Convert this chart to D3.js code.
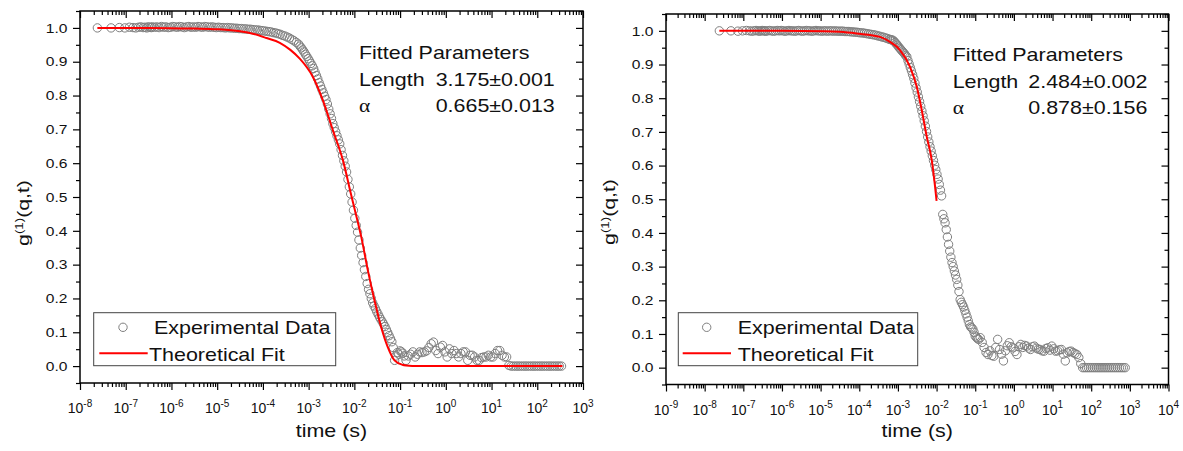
<!DOCTYPE html>
<html>
<head>
<meta charset="utf-8">
<script src="https://cdn.jsdelivr.net/npm/d3@7"></script>
<style>
  body { margin: 0; background: #fff; }
  svg text { font-family: "Liberation Sans", Arial, sans-serif; fill: #111; }
</style>
</head>
<body>
<svg id="chart" width="1183" height="451"></svg>
<script>
// correlator lag times, log10(seconds), shared by both runs
const lagExp = [
  -7.62,-7.32,-7.14,-7.02,-6.92,-6.84,-6.78,-6.72,-6.67,-6.62,-6.58,-6.54,-6.51,-6.47,-6.44,-6.42,
  -6.37,-6.32,-6.27,-6.22,-6.17,-6.12,-6.07,-6.02,-5.97,-5.92,
  -5.87,-5.82,-5.77,-5.72,-5.67,-5.62,-5.57,-5.52,-5.47,-5.42,
  -5.37,-5.32,-5.27,-5.22,-5.17,-5.12,-5.07,-5.02,-4.97,-4.92,
  -4.87,-4.82,-4.77,-4.72,-4.67,-4.62,-4.57,-4.52,-4.47,-4.42,
  -4.37,-4.32,-4.27,-4.22,-4.17,-4.12,-4.07,-4.02,-3.97,-3.92,
  -3.87,-3.82,-3.77,-3.72,-3.67,-3.62,-3.57,-3.52,-3.47,-3.42,
  -3.37,-3.32,-3.27,-3.22,
  -3.19,-3.16,-3.13,-3.10,-3.07,-3.04,-3.01,-2.98,-2.95,-2.92,
  -2.89,-2.86,-2.83,-2.80,-2.77,-2.74,-2.71,-2.68,-2.65,-2.62,
  -2.59,-2.56,-2.53,-2.50,-2.47,-2.44,-2.41,-2.38,-2.35,-2.32,
  -2.29,-2.26,-2.23,-2.20,-2.17,-2.14,-2.11,-2.08,-2.05,-2.02,
  -1.99,-1.96,-1.93,-1.90,-1.87,-1.84,-1.81,-1.78,-1.75,-1.72,
  -1.69,-1.66,-1.63,-1.60,-1.57,-1.54,-1.51,-1.48,-1.45,-1.42,
  -1.39,-1.36,-1.33,-1.30,-1.27,-1.24,-1.21,-1.18,-1.15,-1.12,
  -1.09,-1.06,-1.03,-1.00,-0.97,-0.94,-0.91,
  -0.87,-0.82,-0.77,-0.72,-0.67,-0.62,-0.57,-0.52,-0.47,-0.42,
  -0.37,-0.32,-0.27,-0.22,-0.17,-0.12,-0.07,-0.02,0.03,0.08,
  0.13,0.18,0.23,0.28,0.33,0.38,0.43,0.48,0.53,0.58,
  0.63,0.68,0.73,0.78,0.83,0.88,0.93,0.98,1.03,1.08,
  1.13,1.18,1.23,1.28,1.33,1.38,1.43,1.48,1.53,1.58,
  1.63,1.68,1.73,1.78,1.83,1.88,1.93,1.98,2.03,2.08,
  2.13,2.18,2.23,2.28,2.33,2.38,2.43,2.48,2.53,2.58,
  2.63,2.68,2.73,2.78,2.83,2.88
];

// g1(q,t) measured, left sample
const leftG = [
  1.000,1.000,1.001,1.000,1.002,1.001,1.000,1.002,1.003,1.001,1.002,1.000,1.003,1.002,1.001,1.003,
  1.002,1.003,1.001,1.004,1.002,1.003,1.001,1.002,1.004,1.003,
  1.002,1.004,1.003,1.001,1.003,1.004,1.002,1.003,1.002,1.004,
  1.003,1.002,1.004,1.003,1.002,1.003,1.002,1.001,1.002,1.001,
  1.001,1.000,1.001,1.000,1.000,0.999,0.999,0.998,0.998,0.997,
  0.997,0.996,0.996,0.995,0.994,0.994,0.993,0.992,0.991,0.990,
  0.989,0.988,0.986,0.985,0.983,0.981,0.978,0.976,0.973,0.970,
  0.966,0.962,0.957,0.952,
  0.946,0.941,0.935,0.929,0.922,0.916,0.909,0.902,0.895,0.888,
  0.880,0.869,0.859,0.849,0.838,0.828,0.818,0.808,0.798,0.788,
  0.775,0.760,0.746,0.732,0.717,0.705,0.693,0.681,0.669,0.657,
  0.640,0.623,0.607,0.591,0.574,0.552,0.530,0.509,0.485,0.461,
  0.437,0.416,0.396,0.373,0.349,0.327,0.306,0.285,0.265,0.244,
  0.227,0.214,0.200,0.187,0.178,0.170,0.161,0.153,0.145,0.138,
  0.131,0.124,0.117,0.108,0.099,0.090,0.081,0.072,0.055,0.017,
  0.030,0.040,0.035,0.045,0.042,0.038,0.030,
  0.017,0.030,0.035,0.042,0.027,0.035,0.042,0.040,0.042,0.045,
  0.055,0.066,0.071,0.046,0.037,0.056,0.061,0.042,0.027,0.051,
  0.037,0.046,0.037,0.027,0.037,0.042,0.042,0.017,0.032,0.032,
  0.027,0.017,0.017,0.025,0.027,0.027,0.032,0.027,0.027,0.037,
  0.046,0.046,0.032,0.027,0.027,0.002,0,0,0,0,
  0,0,0,0,0,0,0,0,0,0,
  0,0,0,0,0,0,0,0,0
];

// g1(q,t) measured, right sample
const rightG = [
  1.000,1.000,0.999,1.000,1.001,1.000,0.999,1.000,1.001,1.000,0.999,1.000,1.001,1.000,1.000,0.999,
  1.000,1.001,1.000,0.999,1.000,1.001,1.000,1.001,1.000,0.999,
  1.000,1.001,1.000,1.000,0.999,1.000,1.001,1.000,0.999,1.000,
  1.001,1.000,1.000,0.999,1.000,1.001,1.000,1.000,0.999,1.000,
  1.000,0.999,1.000,1.000,0.999,1.000,0.999,0.999,0.999,0.999,
  0.998,0.998,0.998,0.997,0.997,0.996,0.996,0.995,0.994,0.994,
  0.993,0.992,0.991,0.990,0.989,0.988,0.987,0.985,0.984,0.982,
  0.981,0.979,0.977,0.975,
  0.974,0.973,0.972,0.969,0.965,0.961,0.957,0.952,0.948,0.944,
  0.940,0.936,0.932,0.927,0.923,0.912,0.902,0.891,0.881,0.870,
  0.859,0.845,0.831,0.818,0.804,0.790,0.776,0.762,0.748,0.733,
  0.717,0.701,0.685,0.670,0.656,0.643,0.629,0.615,0.601,0.588,
  0.574,0.560,0.544,0.527,0.510,0.455,0.442,0.430,0.410,0.388,
  0.366,0.346,0.328,0.312,0.300,0.287,0.275,0.262,0.245,0.226,
  0.202,0.194,0.187,0.180,0.170,0.160,0.150,0.139,0.128,0.121,
  0.118,0.114,0.105,0.094,0.090,0.086,0.084,
  0.089,0.075,0.060,0.045,0.039,0.050,0.036,0.034,0.060,0.084,
  0.054,0.040,0.020,0.050,0.065,0.074,0.062,0.059,0.048,0.039,
  0.062,0.069,0.060,0.066,0.064,0.058,0.054,0.062,0.064,0.058,
  0.055,0.054,0.050,0.049,0.057,0.059,0.052,0.064,0.056,0.049,
  0.050,0.053,0.054,0.040,0.020,0.044,0.048,0.049,0.045,0.042,
  0.039,0.030,0.012,0,0,0,0,0,0,0,
  0,0,0,0,0,0,0,0,0,0,
  0,0,0,0,0,0
];

// theoretical fit curves (log10 t, g1)
const leftFitExp = [-7.62,-6.5,-5.5,-5.0,-4.5,-4.2,-3.92,-3.63,-3.4,-3.2,-2.906,-2.688,-2.469,-2.251,-2.068,-1.996,-1.849,-1.705,-1.559,-1.413,-1.269,-1.122,-0.95,-0.867,-0.6,2.55];
const leftFitG   = [1,1,0.998,0.996,0.990,0.982,0.970,0.956,0.935,0.910,0.855,0.786,0.697,0.609,0.505,0.465,0.382,0.283,0.194,0.115,0.056,0.017,0.004,0.002,0,0];
const rightFitExp = [-7.62,-6.0,-4.93,-4.5,-4.066,-3.463,-3.204,-2.946,-2.687,-2.513,-2.384,-2.255,-2.126,-2.04,-2.0];
const rightFitG   = [1,1,0.999,0.997,0.992,0.982,0.967,0.943,0.893,0.834,0.765,0.686,0.617,0.538,0.495];

const leftXTicks = [-8,-7,-6,-5,-4,-3,-2,-1,0,1,2,3];
const rightXTicks = [-9,-8,-7,-6,-5,-4,-3,-2,-1,0,1,2,3,4];
const yTicks = [0,0.1,0.2,0.3,0.4,0.5,0.6,0.7,0.8,0.9,1.0];
const legendLabels = ["Experimental Data", "Theoretical Fit"];
const paramTitle = "Fitted Parameters";
const leftParams = [["Length", "3.175\u00b10.001"], ["\u03b1", "0.665\u00b10.013"]];
const rightParams = [["Length", "2.484\u00b10.002"], ["\u03b1", "0.878\u00b10.156"]];

const svg = d3.select("#chart");
const SX = 1.16; // figure text is set wide

const label = (g, x, y, txt, size, opts = {}) => g.append("text")
    .attr("transform", `translate(${x},${y}) scale(${opts.sx ?? SX},1)`)
    .attr("text-anchor", opts.anchor || "start")
    .style("font-size", size + "px")
    .style("font-family", opts.serif ? '"Liberation Serif", "DejaVu Serif", serif' : null)
    .text(txt);

const drawPanel = (p) => {
    const x = d3.scaleLog().domain([10 ** p.xTicks[0], 10 ** p.xTicks[p.xTicks.length - 1]]).range([p.left, p.right]);
    const y = d3.scaleLinear().domain([-0.05, 1.05]).range([p.bottom, p.top]);
    const g = svg.append("g");

    const majors = p.xTicks.map(e => 10 ** e);
    const minors = p.xTicks.slice(0, -1).flatMap(e => d3.range(2, 10).map(k => k * 10 ** e));
    const yMinor = [-0.05, ...yTicks.map(v => v + 0.05)];
    const axis = (gen, tr) => g.append("g").attr("transform", tr).call(gen)
        .call(s => s.select(".domain").remove())
        .call(s => s.selectAll("line").attr("stroke", "#000").attr("stroke-width", 1.2));

    axis(d3.axisBottom(x).tickValues(majors).tickSize(7).tickFormat(""), `translate(0,${p.bottom})`);
    axis(d3.axisBottom(x).tickValues(minors).tickSize(4).tickFormat(""), `translate(0,${p.bottom})`);
    axis(d3.axisTop(x).tickValues(majors).tickSize(-7).tickFormat(""), `translate(0,${p.top})`);
    axis(d3.axisTop(x).tickValues(minors).tickSize(-4).tickFormat(""), `translate(0,${p.top})`);
    axis(d3.axisLeft(y).tickValues(yTicks).tickSize(7).tickFormat(""), `translate(${p.left},0)`);
    axis(d3.axisLeft(y).tickValues(yMinor).tickSize(4).tickFormat(""), `translate(${p.left},0)`);
    axis(d3.axisRight(y).tickValues(yTicks).tickSize(-7).tickFormat(""), `translate(${p.right},0)`);
    axis(d3.axisRight(y).tickValues(yMinor).tickSize(-4).tickFormat(""), `translate(${p.right},0)`);

    g.append("rect").attr("x", p.left).attr("y", p.top)
        .attr("width", p.right - p.left).attr("height", p.bottom - p.top)
        .attr("fill", "none").attr("stroke", "#000").attr("stroke-width", 1.5);

    // tick labels
    p.xTicks.forEach(e => {
        const t = g.append("text").attr("x", x(10 ** e)).attr("y", p.bottom + 30)
            .attr("text-anchor", "middle").style("font-size", "14px");
        t.append("tspan").text("10");
        t.append("tspan").attr("dy", -6.5).style("font-size", "10px").text(e);
    });
    yTicks.forEach(v => label(g, p.left - 12.5, y(v) + 4.7, d3.format(".1f")(v), 13, {anchor: "end", sx: 1.2}));

    // axis titles
    label(g, (p.left + p.right) / 2, 437, "time (s)", 18.5, {anchor: "middle"});
    const yt = g.append("text")
        .attr("transform", `translate(${p.yTitleX},${p.yTitleY}) rotate(-90) scale(1.33,1)`)
        .attr("text-anchor", "middle").style("font-size", "16px");
    yt.append("tspan").text("g");
    yt.append("tspan").attr("dy", -6).style("font-size", "10px").text("(1)");
    yt.append("tspan").attr("dy", 6).style("font-size", "16px").text("(q,t)");

    // data and fit
    g.append("g").selectAll("circle")
        .data(p.g.map((v, i) => [10 ** lagExp[i], v]))
        .join("circle")
        .attr("cx", d => x(d[0])).attr("cy", d => y(d[1])).attr("r", 4.2)
        .attr("fill", "none").attr("stroke", "#7f7f7f").attr("stroke-width", 1);

    const line = d3.line().x(d => x(d[0])).y(d => y(d[1])).curve(d3.curveMonotoneX);
    g.append("path").datum(p.fitExp.map((e, i) => [10 ** e, p.fitG[i]]))
        .attr("d", line).attr("fill", "none").attr("stroke", "#ff0000").attr("stroke-width", 2);

    // fitted parameters
    const pr = p.params;
    label(g, pr.x, pr.y, paramTitle, 18.5);
    p.paramRows.forEach(([name, val], i) => {
        label(g, pr.x, pr.y + 26.6 * (i + 1), name, 18.5, {serif: name === "\u03b1"});
        label(g, pr.vx, pr.y + 26.6 * (i + 1), val, 18.5);
    });

    // legend
    const L = p.legend;
    g.append("rect").attr("x", L.x).attr("y", L.y).attr("width", L.w).attr("height", L.h)
        .attr("fill", "#fff").attr("stroke", "#444").attr("stroke-width", 1);
    g.append("circle").attr("cx", L.x + L.cx).attr("cy", L.y + 14.6).attr("r", 4.2)
        .attr("fill", "none").attr("stroke", "#7f7f7f").attr("stroke-width", 1);
    g.append("line").attr("x1", L.x + L.l0).attr("x2", L.x + L.l1)
        .attr("y1", L.y + 40.6).attr("y2", L.y + 40.6).attr("stroke", "#ff0000").attr("stroke-width", 2);
    label(g, L.x + L.tx[0], L.y + 21.3, legendLabels[0], 18.5);
    label(g, L.x + L.tx[1], L.y + 48, legendLabels[1], 18.5);
};

drawPanel({
    left: 80, right: 583, top: 11, bottom: 383,
    xTicks: leftXTicks, g: leftG, fitExp: leftFitExp, fitG: leftFitG,
    yTitleX: 29, yTitleY: 213,
    params: {x: 359, vx: 435.7, y: 59}, paramRows: leftParams,
    legend: {x: 93.7, y: 312.7, w: 242, h: 53, cx: 29.3, l0: 5.6, l1: 54, tx: [60.3, 55.3]}
});
drawPanel({
    left: 666, right: 1168.5, top: 14, bottom: 384.5,
    xTicks: rightXTicks, g: rightG, fitExp: rightFitExp, fitG: rightFitG,
    yTitleX: 615, yTitleY: 212,
    params: {x: 952.7, vx: 1028.3, y: 61}, paramRows: rightParams,
    legend: {x: 678.3, y: 312.7, w: 239.4, h: 53, cx: 28.4, l0: 4.4, l1: 52.7, tx: [59.4, 59.4]}
});
</script>
</body>
</html>
